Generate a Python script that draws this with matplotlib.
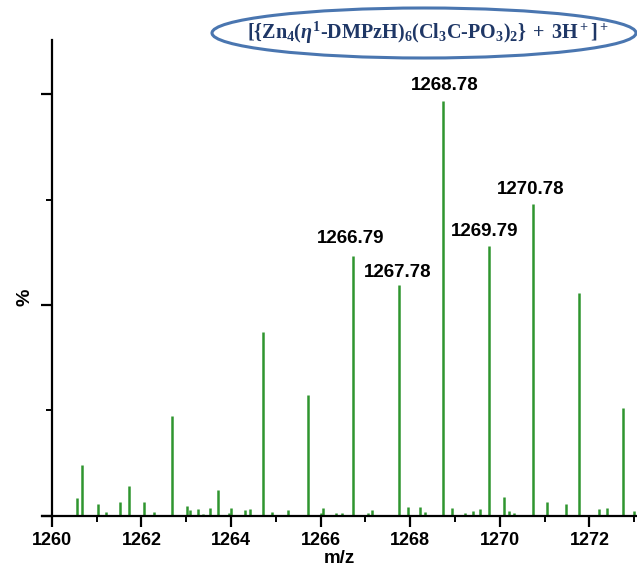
import matplotlib
matplotlib.use("Agg")
import matplotlib.pyplot as plt
from matplotlib.patches import Ellipse
from matplotlib.ticker import MultipleLocator, NullFormatter

plt.rcParams['font.family'] = ['Liberation Sans', 'DejaVu Sans']
plt.rcParams['mathtext.fontset'] = 'custom'
plt.rcParams['mathtext.rm'] = 'Liberation Serif:bold'
plt.rcParams['mathtext.bf'] = 'Liberation Serif:bold'
plt.rcParams['mathtext.it'] = 'Liberation Serif:italic:bold'

# peaks (m/z, relative intensity %)
mz = [1260.07, 1260.57, 1260.68, 1261.04, 1261.22, 1261.53, 1261.72, 1262.05, 1262.28,
      1262.69, 1263.01, 1263.09, 1263.26, 1263.38, 1263.52, 1263.71, 1263.96, 1264.00,
      1264.31, 1264.42, 1264.72, 1264.92, 1265.28, 1265.71, 1266.01, 1266.06, 1266.35,
      1266.48, 1266.73, 1267.06, 1267.15, 1267.47, 1267.75, 1267.94, 1268.21, 1268.33,
      1268.74, 1268.94, 1269.23, 1269.39, 1269.55, 1269.76, 1270.10, 1270.21, 1270.31,
      1270.74, 1271.06, 1271.47, 1271.76, 1272.22, 1272.39, 1272.75, 1272.99]
intensity = [0.3, 4.3, 12.1, 2.8, 1.0, 3.2, 7.1, 3.3, 0.9,
             23.7, 2.3, 1.4, 1.6, 0.4, 1.8, 6.1, 0.8, 1.8,
             1.5, 1.6, 43.6, 0.9, 1.5, 28.7, 0.6, 1.8, 0.6,
             0.6, 61.6, 0.6, 1.4, 0.3, 54.7, 2.1, 2.2, 0.9,
             98.3, 1.8, 0.8, 1.1, 1.6, 64.0, 4.6, 1.3, 0.6,
             73.9, 3.4, 2.9, 52.8, 1.7, 2.0, 25.6, 1.3]

label_text = ['1268.78', '1266.79', '1267.78', '1269.79', '1270.78']
label_x = [1268.77, 1266.67, 1267.72, 1269.67, 1270.69]
label_y = [100.9, 64.7, 56.6, 66.4, 76.3]

title = (r'$\mathrm{[\{Zn_4(}\eta^{\mathrm{1}}\mathrm{\text{-}DMPzH)_6(Cl_3C\text{-}PO_3)_2\}}'
         r'\mathrm{\;+\;3H^+]^+}$')

fig = plt.figure(figsize=(6.37, 5.73), dpi=100)
ax = fig.add_axes([0.0659, 0.0995, 0.934, 0.8307])

ax.vlines(mz, 0, intensity, color='#2f952f', linewidth=1.8)

ax.set_xlim(1259.78, 1273.06)
ax.set_ylim(0, 112.8)
ax.spines['top'].set_visible(False)
ax.spines['right'].set_visible(False)
ax.spines['left'].set_position(('data', 1260))
for s in ['left', 'bottom']:
    ax.spines[s].set_linewidth(1.6)

ax.xaxis.set_major_locator(MultipleLocator(2))
ax.xaxis.set_minor_locator(MultipleLocator(1))
ax.yaxis.set_major_locator(MultipleLocator(50))
ax.yaxis.set_minor_locator(MultipleLocator(25))
ax.yaxis.set_major_formatter(NullFormatter())
ax.tick_params(axis='both', which='major', length=8, width=1.6)
ax.tick_params(axis='both', which='minor', length=4, width=1.4)
ax.tick_params(axis='x', labelsize=13)
for lbl in ax.get_xticklabels():
    lbl.set_fontweight('bold')

ax.set_xlabel('m/z', fontsize=13.5, fontweight='bold', labelpad=1)
fig.text(0.039, 0.482, '%', rotation=90, fontsize=14, fontweight='bold',
         ha='center', va='center')

for t, x, y in zip(label_text, label_x, label_y):
    ax.text(x, y, t, fontsize=13.5, fontweight='bold', ha='center', va='baseline')

ell = Ellipse((424 / 637, 1 - 33 / 573), 424 / 637, 50 / 573, transform=fig.transFigure,
              facecolor='none', edgecolor='#4a76b0', linewidth=2.2, clip_on=False)
fig.patches.append(ell)
fig.text(428 / 637, 1 - 33 / 573, title, fontsize=14.5, color='#1f3766',
         ha='center', va='center')

fig.savefig('out.png', dpi=100)
